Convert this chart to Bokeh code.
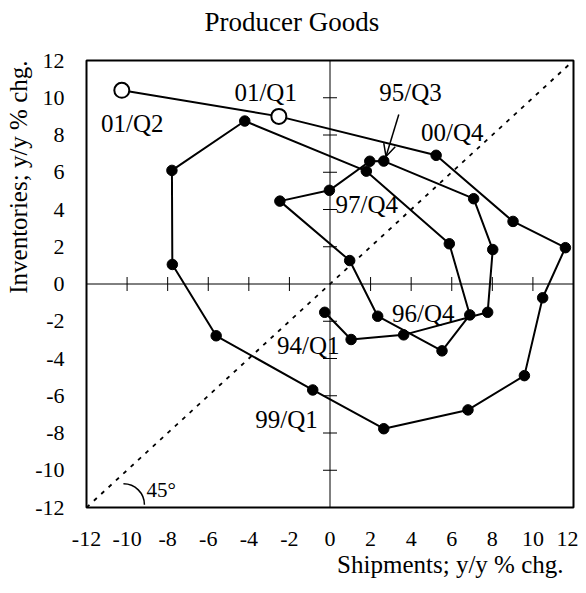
import math
from bokeh.plotting import figure
from bokeh.models import Range1d, FixedTicker, Span, Arrow, OpenHead, Title
from bokeh.embed import file_html
from bokeh.resources import INLINE
from bokeh.core.properties import value

# ---- data (y/y % change), 94/Q1 .. 01/Q2 ----
quarters = ["94/Q1", "94/Q2", "94/Q3", "94/Q4",
            "95/Q1", "95/Q2", "95/Q3", "95/Q4",
            "96/Q1", "96/Q2", "96/Q3", "96/Q4",
            "97/Q1", "97/Q2", "97/Q3", "97/Q4",
            "98/Q1", "98/Q2", "98/Q3", "98/Q4",
            "99/Q1", "99/Q2", "99/Q3", "99/Q4",
            "00/Q1", "00/Q2", "00/Q3", "00/Q4",
            "01/Q1", "01/Q2"]
shipments = [-0.26, 1.04, 3.63, 7.77,
             8.02, 7.08, 2.65, 1.96,
             -0.03, -2.47, 0.97, 2.35,
             5.52, 6.89, 5.88, 1.79,
             -4.20, -7.79, -7.77, -5.61,
             -0.85, 2.65, 6.80, 9.58,
             10.48, 11.60, 9.02, 5.23,
             -2.52, -10.26]
inventories = [-1.52, -2.98, -2.73, -1.52,
               1.85, 4.58, 6.60, 6.59,
               5.03, 4.45, 1.26, -1.73,
               -3.59, -1.66, 2.16, 6.06,
               8.75, 6.10, 1.05, -2.78,
               -5.69, -7.77, -6.76, -4.92,
               -0.74, 1.95, 3.36, 6.91,
               9.00, 10.40]
open_quarters = ["01/Q1", "01/Q2"]   # drawn as open circles

ticks = [-12, -10, -8, -6, -4, -2, 0, 2, 4, 6, 8, 10, 12]
inner_ticks = [-10, -8, -6, -4, -2, 2, 4, 6, 8, 10]
axis_min, axis_max = -12, 12

FONT = "Liberation Serif"

p = figure(width=578, height=585,
           x_range=Range1d(axis_min, axis_max), y_range=Range1d(axis_min, axis_max),
           output_backend="svg", toolbar_location=None,
           min_border_left=86, min_border_right=5, min_border_top=60, min_border_bottom=78)
p.xgrid.visible = False
p.ygrid.visible = False
p.outline_line_color = "black"
p.outline_line_width = 2
p.background_fill_color = "white"

for ax, standoff in ((p.xaxis, 18), (p.yaxis, 16)):
    ax.ticker = FixedTicker(ticks=ticks)
    ax.major_label_overrides = {t: str(t) for t in ticks}
    ax.major_tick_line_color = None
    ax.minor_tick_line_color = None
    ax.axis_line_color = None
    ax.major_label_text_font = FONT
    ax.major_label_text_font_size = "22px"
    ax.major_label_text_color = "black"
    ax.major_label_standoff = standoff

# zero axes through the centre
p.add_layout(Span(location=0, dimension="width", line_color="black", line_width=1))
p.add_layout(Span(location=0, dimension="height", line_color="black", line_width=1))
p.scatter(x=inner_ticks, y=[0] * len(inner_ticks), marker="dash", angle=math.pi / 2,
          size=14, line_color="black", line_width=1)
p.scatter(x=[0] * len(inner_ticks), y=inner_ticks, marker="dash",
          size=14, line_color="black", line_width=1)

# 45 degree line
p.line(x=[axis_min, axis_max], y=[axis_min, axis_max], line_color="black",
       line_width=1.8, line_dash="4 6")
p.arc(x=[-10.18], y=[-11.85], radius=21, radius_units="screen",
      start_angle=0, end_angle=math.pi / 2, line_color="black", line_width=1.5)

# path
p.line(x=shipments, y=inventories, line_color="black", line_width=2)
fx = [x for x, q in zip(shipments, quarters) if q not in open_quarters]
fy = [y for y, q in zip(inventories, quarters) if q not in open_quarters]
ox = [x for x, q in zip(shipments, quarters) if q in open_quarters]
oy = [y for y, q in zip(inventories, quarters) if q in open_quarters]
p.scatter(x=fx, y=fy, size=10.5, fill_color="black", line_color="black")
p.scatter(x=ox, y=oy, size=15, fill_color="white", line_color="black", line_width=2)

# annotations
ann_text = ["01/Q2", "01/Q1", "95/Q3", "00/Q4", "97/Q4", "96/Q4", "94/Q1", "99/Q1", "45°"]
ann_x = [-11.28, -4.71, 2.43, 4.49, 0.27, 3.06, -2.61, -3.68, -9.04]
ann_y = [8.64, 10.30, 10.30, 8.11, 4.26, -1.57, -3.32, -7.27, -11.05]
ann_size = ["25px"] * 8 + ["21px"]
p.text(x=ann_x, y=ann_y, text=ann_text, text_font=value(FONT), text_font_size=ann_size,
       text_align="left", text_baseline="alphabetic", text_color="black")

p.add_layout(Arrow(end=OpenHead(size=12, line_width=1.5, line_color="black"),
                   x_start=3.39, y_start=9.10, x_end=2.76, y_end=6.85,
                   line_width=1.5, line_color="black"))

# titles (an empty spacer panel keeps the chart title up near the top edge)
p.add_layout(Title(text=" ", text_font_size="1px", standoff=19), "above")
p.add_layout(Title(text="Producer Goods", align="left", offset=118, standoff=0,
                   vertical_align="top",
                   text_font=FONT, text_font_size="27px", text_font_style="normal",
                   text_color="black"), "above")
p.add_layout(Title(text="Shipments; y/y % chg.", align="right", offset=10, standoff=0,
                   text_font=FONT, text_font_size="25px", text_font_style="normal",
                   text_color="black"), "below")
p.add_layout(Title(text="Inventories; y/y % chg.", align="right", offset=0, standoff=2,
                   text_font=FONT, text_font_size="25px", text_font_style="normal",
                   text_color="black"), "left")

open("out.html", "w").write(file_html(p, INLINE))
